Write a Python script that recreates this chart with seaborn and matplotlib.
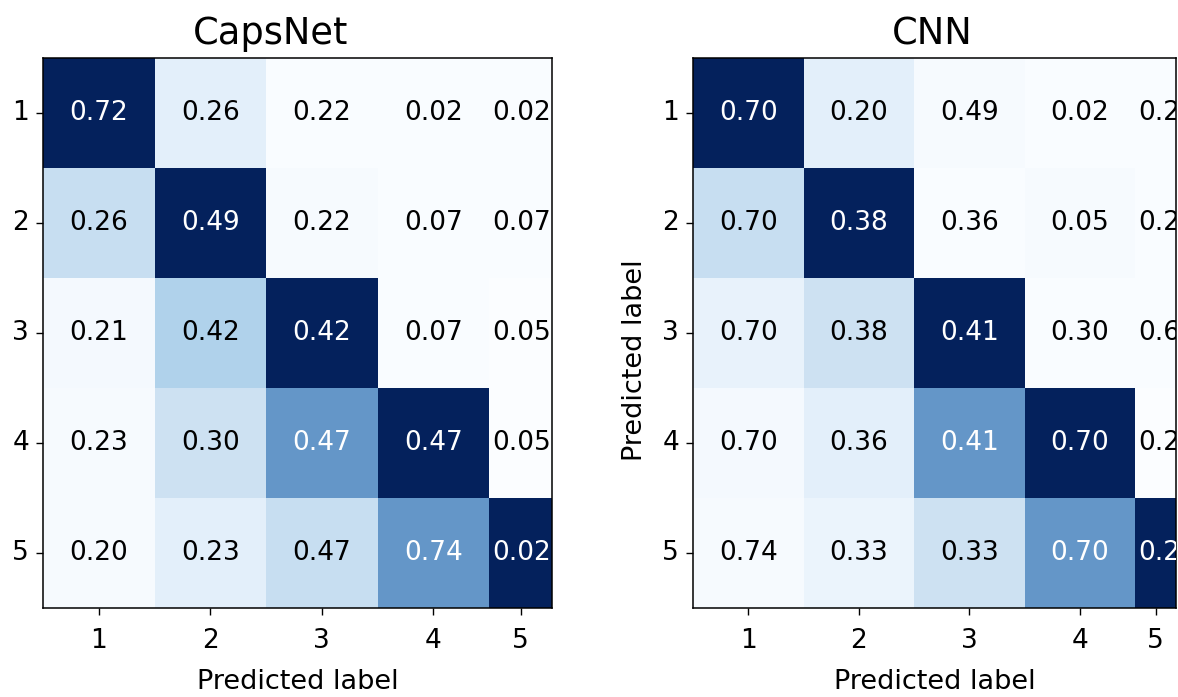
import numpy as np
import matplotlib
matplotlib.use("Agg")
import matplotlib.pyplot as plt
from matplotlib.colors import LinearSegmentedColormap
import seaborn as sns

plt.rcParams["font.family"] = ["DejaVu Sans"]

classes = ["1", "2", "3", "4", "5"]

# numbers written in the cells
capsnet_values = [
    [0.72, 0.26, 0.22, 0.02, 0.02],
    [0.26, 0.49, 0.22, 0.07, 0.07],
    [0.21, 0.42, 0.42, 0.07, 0.05],
    [0.23, 0.30, 0.47, 0.47, 0.05],
    [0.20, 0.23, 0.47, 0.74, 0.02],
]
cnn_values = [
    [0.70, 0.20, 0.49, 0.02, 0.20],
    [0.70, 0.38, 0.36, 0.05, 0.20],
    [0.70, 0.38, 0.41, 0.30, 0.60],
    [0.70, 0.36, 0.41, 0.70, 0.20],
    [0.74, 0.33, 0.33, 0.70, 0.20],
]

# colour intensity of each cell (as read from the shading)
capsnet_shade = [
    [1.00, 0.10, 0.01, 0.01, 0.01],
    [0.22, 1.00, 0.02, 0.01, 0.01],
    [0.03, 0.30, 1.00, 0.01, 0.00],
    [0.02, 0.20, 0.58, 1.00, 0.00],
    [0.02, 0.10, 0.22, 0.58, 1.00],
]
cnn_shade = [
    [1.00, 0.10, 0.02, 0.01, 0.01],
    [0.22, 1.00, 0.01, 0.02, 0.01],
    [0.08, 0.20, 1.00, 0.01, 0.01],
    [0.03, 0.10, 0.58, 1.00, 0.00],
    [0.02, 0.07, 0.20, 0.58, 1.00],
]

blues = LinearSegmentedColormap.from_list(
    "blues_ref",
    [(0.0, "#fbfdff"), (0.1, "#e3effa"), (0.2, "#cde1f2"), (0.3, "#afd2eb"),
     (0.58, "#6496c8"), (1.0, "#04215c")],
)

fig = plt.figure(figsize=(11.78, 6.97), dpi=100)
ax1 = fig.add_axes([0.0365, 0.1277, 0.4321, 0.7891])
ax2 = fig.add_axes([0.5883, 0.1277, 0.4100, 0.7891])


def draw(ax, shade, values, title, visible_cols, title_x):
    shade = np.array(shade)
    values = np.array(values)
    n = shade.shape[1]
    sns.heatmap(shade, annot=values, fmt=".2f", cmap=blues, vmin=0, vmax=1,
                cbar=False, ax=ax, annot_kws={"size": 19},
                xticklabels=classes, yticklabels=classes)
    ax.set_xlim(0, visible_cols)
    xt = np.arange(n) + 0.5
    xt[-1] = (n - 1 + visible_cols) / 2
    ax.set_xticks(xt)
    ax.set_xticklabels(classes, rotation=0)
    ax.set_yticks(np.arange(shade.shape[0]) + 0.5)
    ax.set_yticklabels(classes, rotation=0, va="center")
    for t in ax.texts:
        if t.get_color() != "w":
            t.set_color("black")
        x, y = t.get_position()
        if x > n - 1:
            t.set_x(n - 1 + 0.03)
            t.set_ha("left")
            t.set_clip_on(True)
    for s in ax.spines.values():
        s.set_visible(True)
        s.set_color("black")
        s.set_linewidth(1.1)
    ax.tick_params(length=5, width=1, labelsize=19, pad=5, colors="black")
    ax.tick_params(axis="x", pad=9.5)
    ax.set_title(title, fontsize=26.5, pad=10, x=title_x)
    ax.set_xlabel("Predicted label", fontsize=19.5, labelpad=11)


draw(ax1, capsnet_shade, capsnet_values, "CapsNet", 4.565, 0.447)
draw(ax2, cnn_shade, cnn_values, "CNN", 4.371, 0.496)
ax1.set_ylabel("")
ax2.set_ylabel("Predicted label", fontsize=19.5)
ax2.yaxis.set_label_coords(-0.093, 0.45)

fig.savefig("out.png", dpi=100)
